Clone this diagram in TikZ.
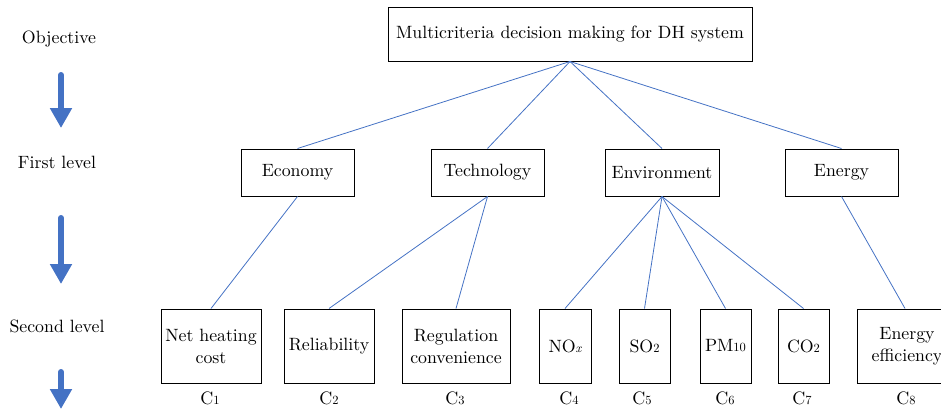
\documentclass[tikz,border=0pt]{standalone}
\usepackage{fontspec}
\setmainfont{lmroman10-regular.otf}[ItalicFont=lmroman10-italic.otf]
\usetikzlibrary{arrows.meta}
\definecolor{lineblue}{RGB}{68,114,196}
\newcommand{\smd}[1]{{\fontsize{12.5}{12.5}\selectfont #1}}
\begin{document}
\begin{tikzpicture}[x=1pt,y=-1pt,
  box/.style={draw=black, line width=1pt, inner sep=0pt, align=center, font=\rmfamily\fontsize{17.8}{22}\selectfont},
  conn/.style={draw=lineblue, line width=0.8pt},
  lbl/.style={font=\rmfamily\fontsize{17.8}{22}\selectfont, inner sep=0pt},
  clbl/.style={font=\rmfamily\fontsize{18}{22}\selectfont, inner sep=0pt},
  bigarrow/.style={draw=lineblue, line width=6pt, line cap=round, -{Triangle[length=20pt,width=21pt]}}
]
\useasboundingbox (0,0) rectangle (941,412);

% left labels
\node[lbl] (lobj) at (59,39) {Objective};
\node[lbl] (lfirst) at (57,162) {First level};
\node[lbl] (lsecond) at (57,326) {Second level};

% big arrows
\coordinate (a1s) at (61,75); \coordinate (a1e) at (61,128);
\coordinate (a2s) at (61,218); \coordinate (a2e) at (61,284);
\coordinate (a3s) at (61,372); \coordinate (a3e) at (61,409);
\draw[bigarrow] (a1s) -- (a1e);
\draw[bigarrow] (a2s) -- (a2e);
\draw[bigarrow] (a3s) -- (a3e);

% top
\node[box, minimum width=364, minimum height=53] (top) at (570,34.5) {Multicriteria decision making for DH system};

% first level
\node[box, minimum width=113, minimum height=47] (eco) at (297.5,172.5) {Economy};
\node[box, minimum width=113, minimum height=47] (tech) at (487.5,172.5) {Technology};
\node[box, minimum width=114, minimum height=47] (env) at (662,172.5) {Environment};
\node[box, minimum width=113, minimum height=47] (ene) at (841.5,172.5) {Energy};

% second level
\node[box, minimum width=100, minimum height=74] (net) at (211,346) {Net heating\\cost};
\node[box, minimum width=90, minimum height=74] (rel) at (329,346) {Reliability};
\node[box, minimum width=108, minimum height=74] (reg) at (456,346) {Regulation\\convenience};
\node[box, minimum width=52, minimum height=74] (nox) at (565,346) {NO\smd{\itshape x}};
\node[box, minimum width=51, minimum height=74] (so2) at (644.5,346) {SO\smd{2}};
\node[box, minimum width=51, minimum height=74] (pm) at (725.5,346) {PM\smd{10}};
\node[box, minimum width=51, minimum height=74] (co2) at (803.5,346) {CO\smd{2}};
\node[box, minimum width=100, minimum height=74] (eff) at (907,346) {Energy\\efficiency};

% C labels
\node[clbl] (c1) at (210,398) {C\smd{1}};
\node[clbl] (c2) at (329,398) {C\smd{2}};
\node[clbl] (c3) at (455,398) {C\smd{3}};
\node[clbl] (c4) at (569,398) {C\smd{4}};
\node[clbl] (c5) at (642,398) {C\smd{5}};
\node[clbl] (c6) at (725,398) {C\smd{6}};
\node[clbl] (c7) at (802,398) {C\smd{7}};
\node[clbl] (c8) at (906,398) {C\smd{8}};

% connectors
\draw[conn] (top.south) -- (eco.north);
\draw[conn] (top.south) -- (tech.north);
\draw[conn] (top.south) -- (env.north);
\draw[conn] (top.south) -- (ene.north);
\draw[conn] (eco.south) -- (net.north);
\draw[conn] (tech.south) -- (rel.north);
\draw[conn] (tech.south) -- (reg.north);
\draw[conn] (env.south) -- (nox.north);
\draw[conn] (env.south) -- (so2.north);
\draw[conn] (env.south) -- (pm.north);
\draw[conn] (env.south) -- (co2.north);
\draw[conn] (ene.south) -- ([xshift=-2pt]eff.north);
\end{tikzpicture}
\end{document}
